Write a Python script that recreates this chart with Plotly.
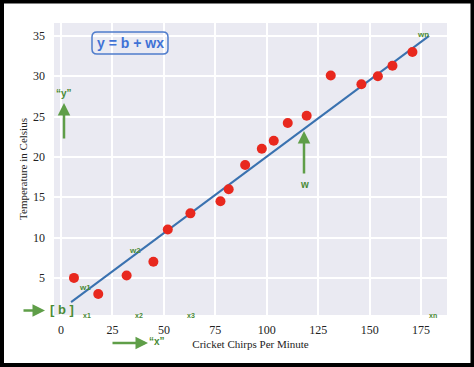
import plotly.graph_objects as go

# data
chirps = [6.3, 18.1, 31.9, 44.9, 51.9, 62.9, 77.5, 81.5, 89.5, 97.6, 103.4, 110.2, 119.4, 131.1, 146.0, 154.0, 161.1, 170.8]
temps = [5.0, 3.0, 5.3, 7.0, 11.0, 13.0, 14.5, 16.0, 19.0, 21.0, 22.0, 24.2, 25.1, 30.1, 29.0, 30.0, 31.3, 33.0]
line_x = [4.9, 178.9]
line_y = [2.0, 35.0]
x_ticks = [0, 25, 50, 75, 100, 125, 150, 175]
y_ticks = [5, 10, 15, 20, 25, 30, 35]

W, H = 474, 367
L, R, T, B = 54, 447, 23, 315
def px(x):
    return (x - L) / (R - L)
def py(y):
    return (B - y) / (B - T)

GREEN = "#5f9e48"
GTEXT = "#4a8a35"
BLUE = "#4f7ccc"
SERIF = "Liberation Serif, Times New Roman, serif"

fig = go.Figure()
fig.add_trace(go.Scatter(x=line_x, y=line_y, mode="lines",
                         line=dict(color="#3a72b0", width=2), hoverinfo="skip"))
fig.add_trace(go.Scatter(x=chirps, y=temps, mode="markers",
                         marker=dict(color="#e8281e", size=10), cliponaxis=False))

ann = []
def txt(x, y, s, size=8, color=GTEXT):
    ann.append(dict(x=px(x), y=py(y), xref="paper", yref="paper",
                    text="<b>%s</b>" % s, showarrow=False,
                    font=dict(size=size, color=color, family="Arial, Liberation Sans, sans-serif"),
                    xanchor="center", yanchor="middle"))

txt(423, 34, "wn", 8)
txt(85, 287, "w1", 8)
txt(135, 250, "w2", 8)
txt(87, 315, "x1", 7)
txt(139, 315, "x2", 7)
txt(191, 315, "x3", 7)
txt(433, 315, "xn", 7)
txt(62, 309, "[ b ]", 13)
txt(64, 94, "“y”", 10)
txt(304, 184, "w", 10)
txt(157, 341, "“x”", 10)
txt(130, 43, "y = b + wx", 14, color="#3f72d6")

def arrow(x0, y0, x1, y1):
    ann.append(dict(x=px(x1), y=py(y1), xref="paper", yref="paper",
                    ax=x0 - x1, ay=y0 - y1, axref="pixel", ayref="pixel",
                    showarrow=True, arrowhead=2, arrowsize=1.0, arrowwidth=2.5,
                    arrowcolor=GREEN, text=""))

arrow(22, 310.5, 45, 310.5)
arrow(64, 140, 64, 103)
arrow(304, 175, 304, 131)
arrow(111, 343, 148, 343)

# rounded box
x0, x1, y0, y1, r = 92, 168, 32, 54, 5
path = ("M %f,%f L %f,%f Q %f,%f %f,%f L %f,%f Q %f,%f %f,%f L %f,%f Q %f,%f %f,%f L %f,%f Q %f,%f %f,%f Z" % (
    px(x0 + r), py(y0), px(x1 - r), py(y0), px(x1), py(y0), px(x1), py(y0 + r),
    px(x1), py(y1 - r), px(x1), py(y1), px(x1 - r), py(y1),
    px(x0 + r), py(y1), px(x0), py(y1), px(x0), py(y1 - r),
    px(x0), py(y0 + r), px(x0), py(y0), px(x0 + r), py(y0)))
shapes = [
    dict(type="path", path=path, xref="paper", yref="paper",
         line=dict(color=BLUE, width=1.5)),
    dict(type="rect", xref="paper", yref="paper",
         x0=px(2), x1=px(472.5), y0=py(1.5), y1=py(365),
         line=dict(color="black", width=4)),
]

fig.update_layout(
    width=W, height=H,
    margin=dict(l=L, r=W - R, t=T, b=H - B),
    paper_bgcolor="white", plot_bgcolor="#eaeaf2",
    showlegend=False,
    annotations=ann, shapes=shapes,
    xaxis=dict(range=[-3.4, 187.6], tickvals=x_ticks, showgrid=True,
               gridcolor="white", gridwidth=1.5, zeroline=False, showline=False,
               ticks="", ticklabelstandoff=6,
               tickfont=dict(family=SERIF, size=12, color="#222"),
               title=dict(text="Cricket Chirps Per Minute", standoff=4,
                          font=dict(family=SERIF, size=11, color="#222"))),
    yaxis=dict(range=[0.4, 36.6], tickvals=y_ticks, showgrid=True,
               gridcolor="white", gridwidth=1.5, zeroline=False, showline=False,
               ticks="", ticklabelstandoff=8,
               tickfont=dict(family=SERIF, size=12, color="#222"),
               title=dict(text="Temperature in Celsius", standoff=3,
                          font=dict(family=SERIF, size=11, color="#222"))),
)

fig.write_html("out.html", config={"displayModeBar": False},
               post_script="document.body.style.margin='0';document.body.style.overflow='hidden';")
